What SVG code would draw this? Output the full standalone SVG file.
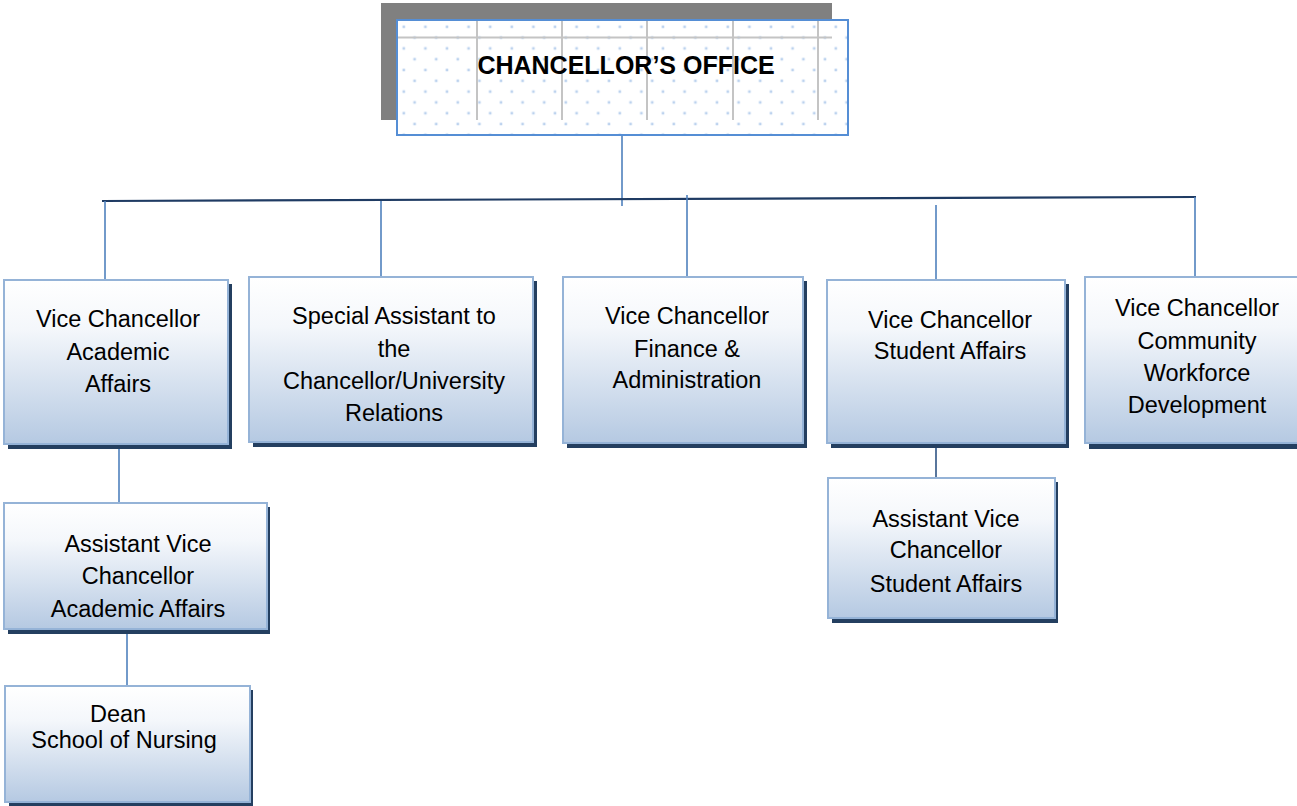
<svg xmlns="http://www.w3.org/2000/svg" width="1297" height="806" viewBox="0 0 1297 806">
<style>
.box{fill:url(#g);stroke:#95b3d7;stroke-width:2}
.sh{fill:#243f60}
.t{font-family:"Liberation Sans",Arial,sans-serif;font-size:23.5px;fill:#000;text-anchor:middle}
.c{stroke:#4f81bd;stroke-width:1.6;fill:none}
.grid{stroke:#c4c4c4;stroke-width:2}
</style>
<defs>
<linearGradient id="g" x1="0" y1="0" x2="0" y2="1">
<stop offset="0" stop-color="#ffffff"/>
<stop offset="0.3" stop-color="#f4f7fb"/>
<stop offset="1" stop-color="#b5c9e2"/>
</linearGradient>
<pattern id="dots" x="397" y="20" width="21.6" height="21.6" patternUnits="userSpaceOnUse">
<rect x="5.5" y="5.5" width="2.6" height="2.6" fill="#bcd2ee"/>
<rect x="16.3" y="16.3" width="2.6" height="2.6" fill="#bcd2ee"/>
</pattern>
<clipPath id="gc"><rect x="397" y="20" width="435" height="100"/></clipPath>
</defs>

<g id="connectors">
<line class="c" x1="622" y1="135" x2="622" y2="206"/>
<line x1="102" y1="201" x2="1196" y2="197" stroke="#1f3b63" stroke-width="2.2"/>
<line class="c" x1="105" y1="201" x2="105" y2="279"/>
<line class="c" x1="381" y1="201" x2="381" y2="276"/>
<line class="c" x1="687" y1="195" x2="687" y2="277"/>
<line class="c" x1="936" y1="205" x2="936" y2="279"/>
<line class="c" x1="1195" y1="197" x2="1195" y2="277"/>
<line class="c" x1="119" y1="444" x2="119" y2="502"/>
<line class="c" x1="127" y1="629" x2="127" y2="685"/>
<line x1="936" y1="443" x2="936" y2="477" stroke="#2f5484" stroke-width="1.6"/>
</g>

<g id="chancellor">
<rect x="381" y="3" width="451" height="117" fill="#808080"/>
<rect x="397" y="20" width="451" height="115" fill="#ffffff"/>
<rect x="397" y="20" width="451" height="115" fill="url(#dots)"/>
<g clip-path="url(#gc)">
<line class="grid" x1="397" y1="37.5" x2="832" y2="37.5"/>
<line class="grid" x1="477" y1="20" x2="477" y2="120"/>
<line class="grid" x1="562" y1="20" x2="562" y2="120"/>
<line class="grid" x1="647" y1="20" x2="647" y2="120"/>
<line class="grid" x1="733" y1="20" x2="733" y2="120"/>
<line class="grid" x1="818" y1="20" x2="818" y2="120"/>
</g>
<rect x="397" y="20" width="451" height="115" fill="none" stroke="#558ed5" stroke-width="2"/>
<text x="626" y="74" font-family="'Liberation Sans',Arial,sans-serif" font-size="25" font-weight="bold" text-anchor="middle">CHANCELLOR’S OFFICE</text>
</g>

<g id="vc-academic">
<rect class="sh" x="8" y="284" width="224" height="165"/>
<rect class="box" x="4" y="280" width="224" height="164"/>
<text class="t"><tspan x="118" y="327">Vice Chancellor</tspan><tspan x="118" y="360">Academic</tspan><tspan x="118" y="392">Affairs</tspan></text>
</g>

<g id="special-assistant">
<rect class="sh" x="253" y="281" width="284" height="166"/>
<rect class="box" x="249" y="277" width="284" height="165"/>
<text class="t"><tspan x="394" y="324">Special Assistant to</tspan><tspan x="394" y="357">the</tspan><tspan x="394" y="389">Chancellor/University</tspan><tspan x="394" y="421">Relations</tspan></text>
</g>

<g id="vc-finance">
<rect class="sh" x="567" y="281" width="240" height="167"/>
<rect class="box" x="563" y="277" width="240" height="166"/>
<text class="t"><tspan x="687" y="324">Vice Chancellor</tspan><tspan x="687" y="357">Finance &amp;</tspan><tspan x="687" y="388">Administration</tspan></text>
</g>

<g id="vc-student">
<rect class="sh" x="831" y="284" width="238" height="164"/>
<rect class="box" x="827" y="280" width="238" height="163"/>
<text class="t"><tspan x="950" y="328">Vice Chancellor</tspan><tspan x="950" y="359">Student Affairs</tspan></text>
</g>

<g id="vc-community">
<rect class="sh" x="1089" y="281" width="212" height="168"/>
<rect class="box" x="1085" y="277" width="214" height="166"/>
<text class="t"><tspan x="1197" y="316">Vice Chancellor</tspan><tspan x="1197" y="349">Community</tspan><tspan x="1197" y="381">Workforce</tspan><tspan x="1197" y="413">Development</tspan></text>
</g>

<g id="avc-academic">
<rect class="sh" x="8" y="507" width="262" height="127"/>
<rect class="box" x="4" y="503" width="263" height="126"/>
<text class="t"><tspan x="138" y="552">Assistant Vice</tspan><tspan x="138" y="584">Chancellor</tspan><tspan x="138" y="617">Academic Affairs</tspan></text>
</g>

<g id="dean-nursing">
<rect class="sh" x="9" y="690" width="244" height="116"/>
<rect class="box" x="5" y="686" width="245" height="116"/>
<text class="t"><tspan x="118" y="722">Dean</tspan><tspan x="124" y="748">School of Nursing</tspan></text>
</g>

<g id="avc-student">
<rect class="sh" x="832" y="482" width="226" height="141"/>
<rect class="box" x="828" y="478" width="227" height="140"/>
<text class="t"><tspan x="946" y="527">Assistant Vice</tspan><tspan x="946" y="558">Chancellor</tspan><tspan x="946" y="592">Student Affairs</tspan></text>
</g>
</svg>
